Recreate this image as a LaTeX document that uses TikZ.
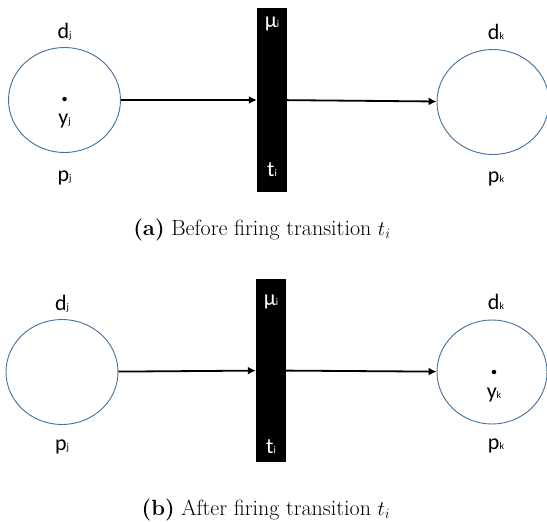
\documentclass[tikz,border=0pt]{standalone}
\usepackage{fontspec}
\newfontfamily\labfont{Carlito}
\usepackage{tikz}
\usetikzlibrary{arrows.meta,shapes.geometric}
\definecolor{ring}{HTML}{41719C}
\definecolor{ink}{HTML}{000000}
\tikzset{
  every node/.style={inner sep=0pt,text=ink},
  place/.style={ellipse,draw=ring,line width=.9pt,minimum width=112pt,minimum height=105pt},
  trans/.style={rectangle,fill=black,minimum width=30pt,minimum height=184pt},
  lab/.style={font=\labfont\fontsize{22}{24}\selectfont},
  inbar/.style={lab,text=white},
  token/.style={circle,fill=black,minimum size=4.5pt},
  arc/.style={-{Latex[length=8pt,width=8pt]},line width=1.8pt},
  capt/.style={font=\fontsize{22}{26}\selectfont},
}
\newcommand{\idx}[1]{{\fontsize{10}{12}\selectfont #1}}

\begin{document}
\begin{tikzpicture}[x=1pt,y=-1pt]
\path[use as bounding box] (0,0) rectangle (547,522);
\fill[white] (0,0) rectangle (547,522);
% (a) before firing
\node[place] (pja) at (64.5,100) {};
\node[trans] (tia) at (272,100) {};
\node[place] (pka) at (493,102) {};
\node[token] (tokja) at (64.5,99) {};
\node[lab] (yja) at (64.5,121) {y\idx{j}};
\node[lab] (dja) at (64.5,32) {d\idx{j}};
\node[lab] (pjla) at (64.5,178) {p\idx{j}};
\node[lab] (dka) at (496,32) {d\idx{k}};
\node[lab] (pkla) at (496,179) {p\idx{k}};
\node[inbar] (mua) at (272,24) {µ\idx{i}};
\node[inbar] (tila) at (272,170) {t\idx{i}};
\draw[arc] (pja) -- (tia);
\draw[arc] (tia) -- (pka);
\node[capt] (capa) at (262,230) {\textbf{(a)} Before firing transition $t_i$};
% (b) after firing
\node[place] (pjb) at (62,372) {};
\node[trans,minimum height=183pt] (tib) at (271,370.5) {};
\node[place,minimum width=110pt,minimum height=104pt] (pkb) at (492,372) {};
\node[token] (tokkb) at (494,372) {};
\node[lab] (ykb) at (494,395) {y\idx{k}};
\node[lab] (djb) at (62,304) {d\idx{j}};
\node[lab] (pjlb) at (62,447) {p\idx{j}};
\node[lab] (dkb) at (496,302) {d\idx{k}};
\node[lab] (pklb) at (496,446) {p\idx{k}};
\node[inbar] (mub) at (271,302) {µ\idx{i}};
\node[inbar] (tilb) at (271,447) {t\idx{i}};
\draw[arc] (pjb) -- (tib);
\draw[arc] (tib) -- (pkb);
\node[capt] (capb) at (266,510) {\textbf{(b)} After firing transition $t_i$};
\end{tikzpicture}
\end{document}
